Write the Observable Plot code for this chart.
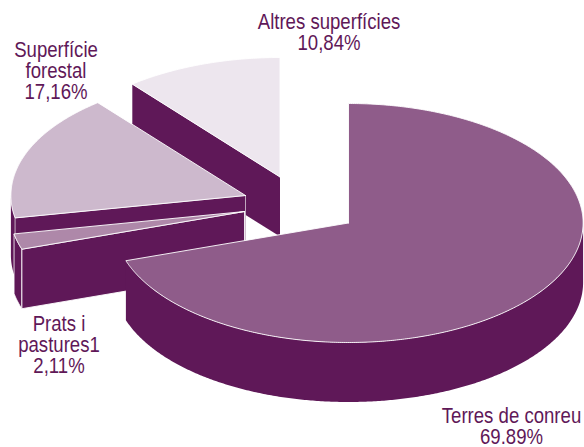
<!DOCTYPE html>
<html>
<head>
<meta charset="utf-8">
<style>html,body{margin:0;padding:0;background:#fff;overflow:hidden}svg{display:block}</style>
<script src="https://cdn.jsdelivr.net/npm/d3@7"></script>
<script src="https://cdn.jsdelivr.net/npm/@observablehq/plot@0.6"></script>
</head>
<body>
<script>
// Chart values
const categories = ["Terres de conreu", "Prats i\npastures1", "Superfície\nforestal", "Altres superfícies"];
const values = [69.89, 2.11, 17.16, 10.84];
const valueLabels = ["69.89%", "2,11%", "17,16%", "10,84%"];

// Layout and styling, per slice in the same order
const topColors = ["#8f5c8a", "#ae88a9", "#cdb9cd", "#ede6ee"];
const apexes = [[348, 222.5], [244, 211], [245, 195], [279.5, 176.5]];
const labelAt = [[511, 426.5], [58.5, 345], [55.5, 70.5], [328.5, 32]];
const wallColor = "#5f1858";
const rx = 234.6, ry = 119.5, depth = 59.5, W = 584, H = 447;
const textSqueeze = 0.845;

const rad = d => d * Math.PI / 180;
const total = d3.sum(values);
const cum = d3.cumsum(values);
const slices = values.map((v, i) => ({
  i,
  a0: (cum[i] - v) / total * 360,
  a1: cum[i] / total * 360,
  cx: apexes[i][0],
  cy: apexes[i][1]
}));
const rim = (s, a, dz = 0) => ({x: s.cx + rx * Math.sin(rad(a)), y: s.cy - ry * Math.cos(rad(a)) + dz});
const arc = (s, a0, a1, dz = 0) => {
  const n = Math.max(2, Math.ceil(Math.abs(a1 - a0) * 2));
  return d3.range(n + 1).map(k => rim(s, a0 + (a1 - a0) * k / n, dz));
};
const closed = pts => [...pts, pts[0]];
const topShape = s => closed([{x: s.cx, y: s.cy}, ...arc(s, s.a0, s.a1)]);
const rimWall = s => {
  const a0 = Math.max(s.a0, 90), a1 = Math.min(s.a1, 270);
  if (a1 <= a0) return null;
  return closed([...arc(s, a0, a1), ...arc(s, a1, a0, depth)]);
};
const cutWall = (s, a) => closed([
  {x: s.cx, y: s.cy}, rim(s, a), rim(s, a, depth), {x: s.cx, y: s.cy + depth}
]);
const poly = (pts, fill, stroke = "none", strokeWidth = 0.9) =>
  Plot.line(pts, {x: "x", y: "y", fill, stroke, strokeWidth, curve: "linear", strokeLinejoin: "round"});

const [big, prats, forest, other] = slices;
const marks = [
  poly(cutWall(other, other.a0), wallColor),
  poly(topShape(other), topColors[3], "#ffffff"),
  poly(rimWall(forest), wallColor),
  poly(cutWall(forest, forest.a0), wallColor, "#d9cdd8", 0.8),
  poly(topShape(forest), topColors[2], "#ffffff"),
  poly(rimWall(prats), wallColor, "#ffffff", 0.8),
  poly(cutWall(prats, prats.a0), wallColor, "#ffffff", 0.9),
  poly(topShape(prats), topColors[1], "#ffffff"),
  poly(rimWall(big), wallColor),
  poly(topShape(big), topColors[0], "#ffffff"),
  Plot.text(categories.map((c, i) => ({t: c + "\n" + valueLabels[i], x: labelAt[i][0], y: labelAt[i][1]})), {
    x: "x", y: "y", text: "t",
    fill: wallColor,
    fontSize: 22,
    lineHeight: 0.955,
    lineAnchor: "middle",
    textAnchor: "middle",
    fontFamily: "'Liberation Sans',sans-serif",
    render(index, scales, values, dimensions, context, next) {
      const g = next(index, scales, values, dimensions, context);
      g.querySelectorAll("text").forEach(t => {
        t.setAttribute("transform", (t.getAttribute("transform") || "") + ` scale(${textSqueeze},1)`);
      });
      return g;
    }
  })
];

const chart = Plot.plot({
  width: W, height: H,
  margin: 0,
  x: {domain: [0, W], axis: null},
  y: {domain: [H, 0], axis: null},
  style: {background: "#fff"},
  marks
});
document.body.appendChild(chart);
</script>
</body>
</html>
